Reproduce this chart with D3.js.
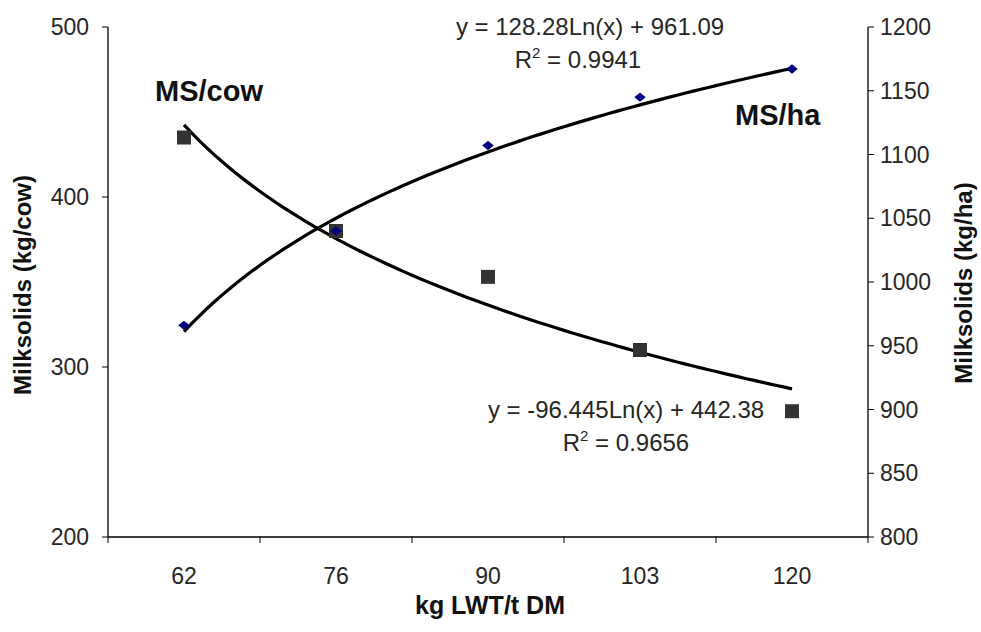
<!DOCTYPE html>
<html><head><meta charset="utf-8">
<script src="https://cdn.jsdelivr.net/npm/d3@7"></script>
<style>body{margin:0;background:#fff}svg{display:block;font-family:"Liberation Sans",Arial,sans-serif}</style>
</head><body><svg id="c" width="981" height="632"></svg>
<script>
const categories = ["62","76","90","103","120"];
const msCow = [435, 380, 353, 310, 274];
const msHa = [966, 1040, 1107, 1145, 1167];
const leftTicks = [200, 300, 400, 500];
const rightTicks = [800, 850, 900, 950, 1000, 1050, 1100, 1150, 1200];
const cowFit = [-96.445, 442.38];   // slope, intercept of ln(x)
const haFit = [128.28, 961.09];
const cowR2 = "0.9656";
const haR2 = "0.9941";

const svg = d3.select("#c");
const L = 108, R = 868, T = 27, B = 537;
const x = d3.scaleBand().domain(categories).range([L, R]);
const yL = d3.scaleLinear().domain([200, 500]).range([B, T]);
const yR = d3.scaleLinear().domain([800, 1200]).range([B, T]);
const cx = c => x(c) + x.bandwidth() / 2;
const TXT = "#262626";

// axes
const gx = svg.append("g").attr("transform", `translate(0,${B})`);
gx.append("line").attr("x1", L).attr("x2", R).attr("stroke", "#000").attr("stroke-width", 1.3);
const bounds = categories.map(c => x(c)).concat([R]);
gx.selectAll("line.t").data(bounds).join("line").attr("class","t")
  .attr("x1", d => d).attr("x2", d => d).attr("y1", 0).attr("y2", 6).attr("stroke", "#000");
gx.selectAll("text").data(categories).join("text")
  .attr("x", d => cx(d)).attr("y", 47).attr("text-anchor", "middle")
  .attr("font-size", 23).attr("fill", TXT).text(d => d);

const gl = svg.append("g").attr("transform", `translate(${L},0)`);
gl.append("line").attr("y1", T).attr("y2", B).attr("stroke", "#000").attr("stroke-width", 1.3);
gl.selectAll("line.t").data(leftTicks).join("line").attr("class","t")
  .attr("x1", -6).attr("x2", 0).attr("y1", d => yL(d)).attr("y2", d => yL(d)).attr("stroke", "#000");
gl.selectAll("text").data(leftTicks).join("text")
  .attr("x", -19).attr("y", d => yL(d)).attr("dy", "0.35em").attr("text-anchor", "end")
  .attr("font-size", 23).attr("fill", TXT).text(d => d);

const gr = svg.append("g").attr("transform", `translate(${R},0)`);
gr.append("line").attr("y1", T).attr("y2", B).attr("stroke", "#000").attr("stroke-width", 1.3);
gr.selectAll("line.t").data(rightTicks).join("line").attr("class","t")
  .attr("x1", 0).attr("x2", 6).attr("y1", d => yR(d)).attr("y2", d => yR(d)).attr("stroke", "#000");
gr.selectAll("text").data(rightTicks).join("text")
  .attr("x", 12).attr("y", d => yR(d)).attr("dy", "0.35em").attr("text-anchor", "start")
  .attr("font-size", 23).attr("fill", TXT).text(d => d);

// axis titles
svg.append("text").attr("transform", "translate(31,285) rotate(-90)").attr("text-anchor", "middle")
  .attr("font-size", 24).attr("font-weight", "bold").attr("fill", "#111").text("Milksolids (kg/cow)");
svg.append("text").attr("transform", "translate(972,283) rotate(-90)").attr("text-anchor", "middle")
  .attr("font-size", 24).attr("font-weight", "bold").attr("fill", "#111").text("Milksolids (kg/ha)");
svg.append("text").attr("x", 490).attr("y", 614).attr("text-anchor", "middle")
  .attr("font-size", 25).attr("font-weight", "bold").attr("fill", "#111").text("kg LWT/t DM");

// trend lines (logarithmic fits on category index 1..n)
const idx = d3.range(1, categories.length + 0.001, 0.05);
const xi = i => cx(categories[0]) + (i - 1) * x.step();
const lineCow = d3.line().x(i => xi(i)).y(i => yL(cowFit[0] * Math.log(i) + cowFit[1]));
const lineHa = d3.line().x(i => xi(i)).y(i => yR(haFit[0] * Math.log(i) + haFit[1]));
svg.append("path").attr("d", lineCow(idx)).attr("fill", "none").attr("stroke", "#000").attr("stroke-width", 3.2);
svg.append("path").attr("d", lineHa(idx)).attr("fill", "none").attr("stroke", "#000").attr("stroke-width", 3.2);

// markers
svg.selectAll("rect.cow").data(msCow).join("rect").attr("class","cow")
  .attr("x", (d, i) => cx(categories[i]) - 7).attr("y", d => yL(d) - 7)
  .attr("width", 14).attr("height", 14).attr("fill", "#333");
const diamond = d3.symbol().type(d3.symbolDiamond2).size(70);
svg.selectAll("path.ha").data(msHa).join("path").attr("class","ha")
  .attr("d", diamond).attr("transform", (d, i) => `translate(${cx(categories[i])},${yR(d)}) scale(1.1,0.9)`)
  .attr("fill", "#00007f");

// labels
svg.append("text").attr("x", 155).attr("y", 101).attr("font-size", 29).attr("font-weight", "bold").attr("fill", "#111").text("MS/cow");
svg.append("text").attr("x", 735).attr("y", 125).attr("font-size", 29).attr("font-weight", "bold").attr("fill", "#111").text("MS/ha");

function eq(cx1, cx2, y1, fit, r2) {
  const s = fit[0] < 0 ? "-" + Math.abs(fit[0]) : fit[0];
  svg.append("text").attr("x", cx1).attr("y", y1).attr("text-anchor", "middle")
    .attr("font-size", 24).attr("fill", TXT).text(`y = ${s}Ln(x) + ${fit[1]}`);
  const t = svg.append("text").attr("x", cx2).attr("y", y1 + 33).attr("text-anchor", "middle")
    .attr("font-size", 24).attr("fill", TXT);
  t.append("tspan").text("R");
  t.append("tspan").attr("dy", -10).attr("font-size", 15).text("2");
  t.append("tspan").attr("dy", 10).text(" = " + r2);
}
eq(590, 578, 35, haFit, haR2);
eq(626, 626, 418, cowFit, cowR2);
</script></body></html>
